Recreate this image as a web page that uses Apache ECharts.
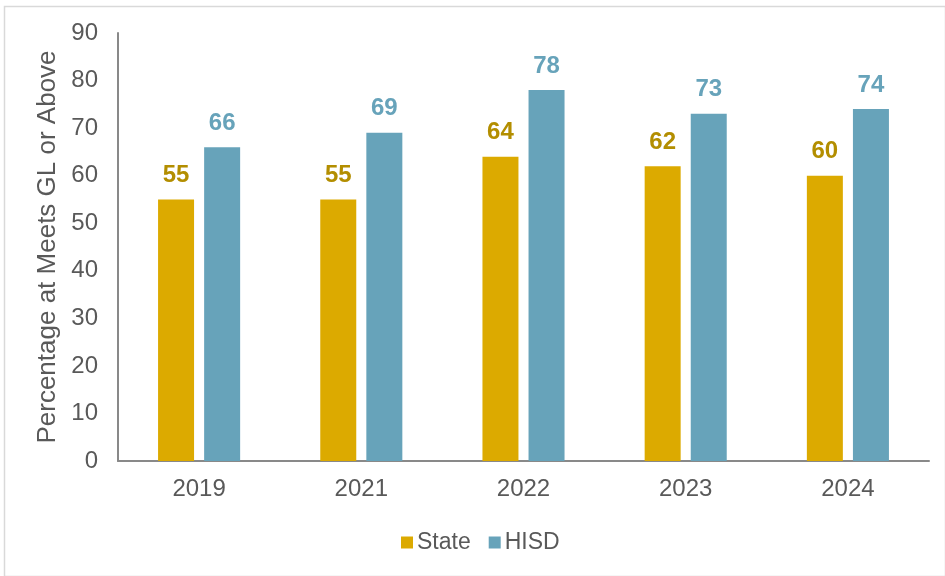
<!DOCTYPE html>
<html>
<head>
<meta charset="utf-8">
<script src="https://cdn.jsdelivr.net/npm/echarts@6/dist/echarts.min.js"></script>
<style>
  html, body { margin: 0; padding: 0; background: #fff; }
  #chart { width: 945px; height: 576px; }
</style>
</head>
<body>
<div id="chart"></div>
<script>
// School years shown on the category axis
const years = ['2019', '2021', '2022', '2023', '2024'];
// Percentage of students at Meets Grade Level or above
const stateValues = [55, 55, 64, 62, 60];
const hisdValues = [66, 69, 78, 73, 74];
// Value axis range
const yMin = 0;
const yMax = 90;
const yStep = 10;

const FONT = 'Liberation Sans, Arial, sans-serif';
const chart = echarts.init(document.getElementById('chart'));

chart.setOption({
  animation: false,
  backgroundColor: '#ffffff',
  textStyle: { fontFamily: FONT },
  graphic: [{
    type: 'rect',
    left: 2, top: 4,
    shape: { width: 941, height: 570 },
    style: { fill: 'none', stroke: '#d9d9d9', lineWidth: 1.5 },
    silent: true
  }],
  grid: { left: 118, right: 16, top: 33, bottom: 115 },
  legend: {
    top: 526,
    left: 396,
    itemWidth: 12,
    itemHeight: 12,
    itemGap: 18,
    icon: 'rect',
    textStyle: { fontSize: 23, color: '#595959', fontFamily: FONT, padding: [0, 0, 0, -1] },
    data: ['State', 'HISD']
  },
  xAxis: {
    type: 'category',
    data: years,
    axisLine: { lineStyle: { color: '#898989', width: 2 } },
    axisTick: { show: false },
    axisLabel: { fontSize: 24, color: '#595959', margin: 16, fontFamily: FONT }
  },
  yAxis: {
    type: 'value',
    min: yMin,
    max: yMax,
    interval: yStep,
    name: 'Percentage at Meets GL or Above',
    nameLocation: 'middle',
    nameGap: 56,
    nameTextStyle: { fontSize: 26, color: '#595959', fontFamily: FONT },
    axisLine: { show: true, lineStyle: { color: '#898989', width: 2 } },
    axisTick: { show: false },
    splitLine: { show: false },
    axisLabel: { fontSize: 24, color: '#595959', margin: 20, fontFamily: FONT }
  },
  series: [
    {
      name: 'State',
      type: 'bar',
      data: stateValues,
      barWidth: 36,
      barGap: '28%',
      itemStyle: { color: '#dcaa00' },
      label: {
        show: true,
        position: 'top',
        distance: 12,
        fontSize: 24,
        fontWeight: 'bold',
        color: '#b38e00',
        fontFamily: FONT
      }
    },
    {
      name: 'HISD',
      type: 'bar',
      data: hisdValues,
      barWidth: 36,
      itemStyle: { color: '#67a3ba' },
      label: {
        show: true,
        position: 'top',
        distance: 12,
        fontSize: 24,
        fontWeight: 'bold',
        color: '#67a3ba',
        fontFamily: FONT
      }
    }
  ]
});
</script>
</body>
</html>
